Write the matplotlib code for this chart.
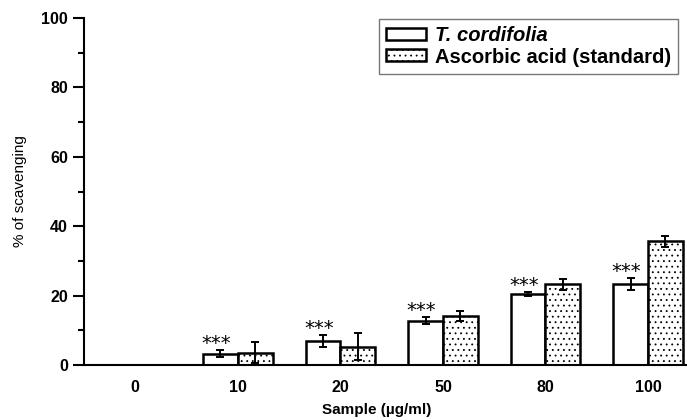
import matplotlib
matplotlib.use("Agg")
import matplotlib.pyplot as plt
import numpy as np

plt.rcParams["font.family"] = ["Liberation Sans", "DejaVu Sans"]
plt.rcParams["hatch.linewidth"] = 0.6

concentraciones = ["0", "10", "20", "50", "80", "100"]
cordifolia = [0, 3.3, 6.9, 12.8, 20.5, 23.4]
cordifolia_err = [0, 1.0, 1.7, 1.1, 0.6, 1.7]
ascorbico = [0, 3.6, 5.3, 14.1, 23.2, 35.6]
ascorbico_err = [0, 3.0, 4.0, 1.5, 1.7, 1.5]
significancia = ["", "***", "***", "***", "***", "***"]

x = np.arange(len(concentraciones))
ancho = 0.34

fig = plt.figure(figsize=(6.87, 4.2), dpi=100)
ax = fig.add_axes([84 / 687, 1 - 365 / 420, (686 - 84) / 687, (365 - 18) / 420])

ax.bar(x - ancho / 2, cordifolia, ancho, yerr=cordifolia_err, color="white",
       edgecolor="black", linewidth=1.8, capsize=3,
       error_kw=dict(elinewidth=1.4, capthick=1.4), label="T. cordifolia")
ax.bar(x + ancho / 2, ascorbico, ancho, yerr=ascorbico_err, color="white",
       edgecolor="black", linewidth=1.8, hatch="...", capsize=3,
       error_kw=dict(elinewidth=1.4, capthick=1.4), label="Ascorbic acid (standard)")

# asteriscos de significancia sobre las barras de T. cordifolia
for xi, v, e, s in zip(x, cordifolia, cordifolia_err, significancia):
    if s:
        ax.text(xi - ancho / 2 - 0.04, v + e + 0.3, s, ha="center", va="baseline",
                fontsize=14, family="DejaVu Sans")

ax.set_xlim(-0.5, 5.37)
ax.set_ylim(0, 100)
ax.set_xticks(x)
ax.set_xticklabels(concentraciones, fontweight="bold", fontsize=11.5)
ax.tick_params(axis="x", length=0, pad=11)
ax.set_yticks(range(0, 101, 20))
ax.set_yticks(range(0, 101, 10), minor=True)
ax.tick_params(axis="y", which="major", length=8, width=1.5, labelsize=11.5)
ax.tick_params(axis="y", which="minor", length=4, width=1.5)
for lbl in ax.get_yticklabels():
    lbl.set_fontweight("bold")

ax.spines["top"].set_visible(False)
ax.spines["right"].set_visible(False)
ax.spines["left"].set_linewidth(1.5)
ax.spines["bottom"].set_linewidth(1.5)

ax.set_ylabel("% of scavenging", fontsize=11, labelpad=10)
fig.text(377 / 687, 1 - 410 / 420, "Sample (µg/ml)", fontsize=11, fontweight="bold",
         ha="center", va="center")

leg = ax.legend(loc="upper right", bbox_to_anchor=(0.987, 0.997), borderaxespad=0,
                fancybox=False, edgecolor="#555555", fontsize=14.5, handlelength=2.0,
                handleheight=0.55, borderpad=0.35, labelspacing=0.12, handletextpad=0.45)
leg.get_frame().set_linewidth(1.0)
textos = leg.get_texts()
textos[0].set_fontstyle("italic")
for t in textos:
    t.set_fontweight("bold")

plt.savefig("out.png", dpi=100)
plt.close()
